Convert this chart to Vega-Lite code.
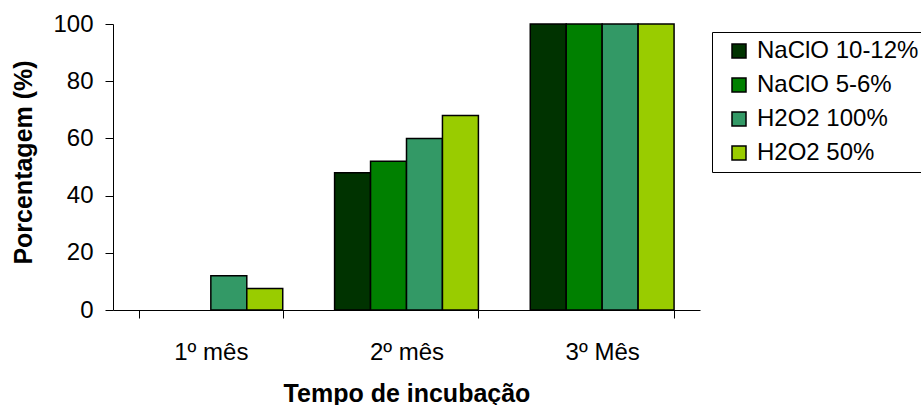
{
  "$schema": "https://vega.github.io/schema/vega-lite/v6.json",
  "autosize": {"type": "none"},
  "width": 587,
  "height": 286,
  "padding": {"left": 113, "top": 24, "right": 221, "bottom": 95},
  "background": "white",
  "config": {
    "view": {"stroke": null},
    "font": "Liberation Sans"
  },
  "data": {
    "values": [
      {"mes": "1º mês", "serie": "NaClO 10-12%", "valor": 0},
      {"mes": "1º mês", "serie": "NaClO 5-6%", "valor": 0},
      {"mes": "1º mês", "serie": "H2O2 100%", "valor": 12},
      {"mes": "1º mês", "serie": "H2O2 50%", "valor": 7.5},
      {"mes": "2º mês", "serie": "NaClO 10-12%", "valor": 48},
      {"mes": "2º mês", "serie": "NaClO 5-6%", "valor": 52},
      {"mes": "2º mês", "serie": "H2O2 100%", "valor": 60},
      {"mes": "2º mês", "serie": "H2O2 50%", "valor": 68},
      {"mes": "3º Mês", "serie": "NaClO 10-12%", "valor": 100},
      {"mes": "3º Mês", "serie": "NaClO 5-6%", "valor": 100},
      {"mes": "3º Mês", "serie": "H2O2 100%", "valor": 100},
      {"mes": "3º Mês", "serie": "H2O2 50%", "valor": 100}
    ]
  },
  "mark": {"type": "bar", "stroke": "black", "strokeWidth": 1.5},
  "encoding": {
    "x": {
      "field": "mes",
      "type": "nominal",
      "sort": ["1º mês", "2º mês", "3º Mês"],
      "scale": {"paddingInner": 0.265, "paddingOuter": 0.1325},
      "axis": {
        "title": "Tempo de incubação",
        "labelAngle": 0,
        "labelFontSize": 24,
        "labelColor": "black",
        "labelPadding": 22,
        "labelBaseline": "top",
        "tickBand": "extent",
        "tickSize": 8,
        "tickColor": "black",
        "domainColor": "black",
        "titleFontSize": 25,
        "titleFontWeight": "bold",
        "titleColor": "black",
        "titleBaseline": "alphabetic",
        "titleY": 91
      }
    },
    "xOffset": {
      "field": "serie",
      "type": "nominal",
      "sort": ["NaClO 10-12%", "NaClO 5-6%", "H2O2 100%", "H2O2 50%"],
      "scale": {"paddingInner": 0, "paddingOuter": 0}
    },
    "y": {
      "field": "valor",
      "type": "quantitative",
      "scale": {"domain": [0, 100], "nice": false},
      "axis": {
        "title": "Porcentagem (%)",
        "values": [0, 20, 40, 60, 80, 100],
        "grid": false,
        "labelFontSize": 24,
        "labelColor": "black",
        "labelPadding": 12,
        "tickSize": 8,
        "tickColor": "black",
        "domainColor": "black",
        "titleFontSize": 25,
        "titleFontWeight": "bold",
        "titleColor": "black",
        "titleBaseline": "alphabetic",
        "titleAlign": "center",
        "titleX": -82,
        "titleY": 138
      }
    },
    "strokeOpacity": {
      "condition": {"test": "datum.valor == 0", "value": 0},
      "value": 1
    },
    "fill": {
      "field": "serie",
      "type": "nominal",
      "sort": ["NaClO 10-12%", "NaClO 5-6%", "H2O2 100%", "H2O2 50%"],
      "scale": {
        "domain": ["NaClO 10-12%", "NaClO 5-6%", "H2O2 100%", "H2O2 50%"],
        "range": ["#003300", "#008000", "#339966", "#99CC00"]
      },
      "legend": {
        "title": null,
        "orient": "none",
        "legendX": 599,
        "legendY": 8,
        "strokeColor": "black",
        "fillColor": "white",
        "padding": 7,
        "symbolOffset": 8,
        "symbolType": "square",
        "symbolSize": 196,
        "symbolStrokeColor": "black",
        "symbolStrokeWidth": 1.5,
        "labelFontSize": 24,
        "labelColor": "black",
        "labelOffset": 6,
        "rowPadding": 10,
        "labelLimit": 400
      }
    }
  }
}
